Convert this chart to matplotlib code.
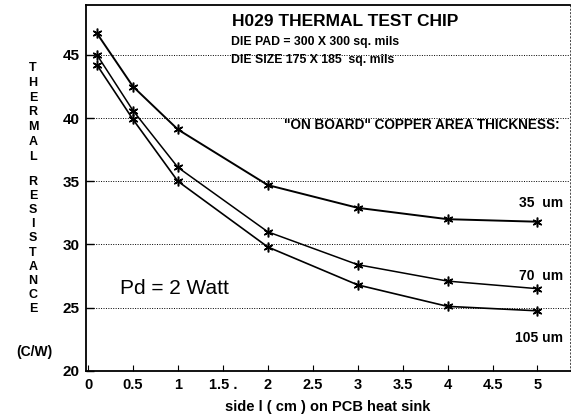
import matplotlib.pyplot as plt

# Thermal resistance vs. copper heat-sink side length, three copper thicknesses
side_cm = [0.1, 0.5, 1, 2, 3, 4, 5]
r_35um = [46.7, 42.5, 39.1, 34.7, 32.9, 32.0, 31.8]
r_70um = [45.0, 40.6, 36.1, 31.0, 28.4, 27.1, 26.5]
r_105um = [44.2, 39.9, 35.0, 29.8, 26.8, 25.1, 24.75]

x_ticks = [0, 0.5, 1, 1.5, 2, 2.5, 3, 3.5, 4, 4.5, 5]
x_ticklabels = ['0', '0.5', '1', '1.5 .', '2', '2.5', '3', '3.5', '4', '4.5', '5']
y_ticks = [20, 25, 30, 35, 40, 45]

plt.rcParams['font.family'] = ['Liberation Sans', 'DejaVu Sans']

fig = plt.figure(figsize=(5.71, 4.19), dpi=100)
ax = fig.add_axes([0.151, 0.115, 0.847, 0.873])

star = (6, 2, 0)
for r, lw in ((r_35um, 1.4), (r_70um, 1.1), (r_105um, 1.2)):
    ax.plot(side_cm, r, color='black', linewidth=lw, marker=star,
            markersize=7, markeredgewidth=1.1)

ax.set_xlim(-0.02, 5.36)
ax.set_ylim(20, 48.95)

ax.set_xticks(x_ticks)
ax.set_xticklabels(x_ticklabels, fontweight='bold', fontsize=10.5)
ax.set_yticks(y_ticks)
ax.set_yticklabels([str(v) for v in y_ticks], fontweight='bold', fontsize=11)
ax.tick_params(axis='x', direction='in', length=4, width=0.8, pad=5)
ax.tick_params(axis='y', direction='in', length=6, width=1.0, pad=5)

# dotted horizontal guides
for v in y_ticks[1:]:
    ax.axhline(v, color='black', linestyle=(0, (1, 1.5)), linewidth=0.7)

for side in ('left', 'bottom', 'top'):
    ax.spines[side].set_linewidth(1.3)
ax.spines['right'].set_linewidth(0.5)
ax.spines['right'].set_linestyle((0, (2, 3)))

ax.set_xlabel('side l ( cm ) on PCB heat sink', fontweight='bold',
              fontsize=10.5, labelpad=6)

# stacked vertical axis title
for i, ch in enumerate('THERMAL'):
    fig.text(0.058, 1 - (68 + i * 14.8) / 419, ch, ha='center', va='center',
             fontweight='bold', fontsize=9)
for i, ch in enumerate('RESISTANCE'):
    fig.text(0.058, 1 - (182 + i * 14.1) / 419, ch, ha='center', va='center',
             fontweight='bold', fontsize=9)
fig.text(0.06, 1 - 352 / 419, '(C/W)', ha='center', va='center',
         fontweight='bold', fontsize=10)

# annotations
ax.text(0.535, 0.955, 'H029 THERMAL TEST CHIP', transform=ax.transAxes,
        ha='center', va='center', fontweight='bold', fontsize=12.5)
ax.text(0.30, 0.900, 'DIE PAD = 300 X 300 sq. mils', transform=ax.transAxes,
        ha='left', va='center', fontweight='bold', fontsize=8.8)
ax.text(0.30, 0.850, 'DIE SIZE 175 X 185  sq. mils', transform=ax.transAxes,
        ha='left', va='center', fontweight='bold', fontsize=8.8)
ax.text(0.408, 0.672, '"ON BOARD" COPPER AREA THICKNESS:',
        transform=ax.transAxes, ha='left', va='center',
        fontweight='bold', fontsize=9.8)
ax.text(0.986, 0.460, '35  um', transform=ax.transAxes, ha='right',
        va='center', fontweight='bold', fontsize=10)
ax.text(0.986, 0.260, '70  um', transform=ax.transAxes, ha='right',
        va='center', fontweight='bold', fontsize=10)
ax.text(0.986, 0.090, '105 um', transform=ax.transAxes, ha='right',
        va='center', fontweight='bold', fontsize=10)
ax.text(0.07, 0.225, 'Pd = 2 Watt', transform=ax.transAxes, ha='left',
        va='center', fontsize=15)

fig.savefig('out.png', dpi=100)
